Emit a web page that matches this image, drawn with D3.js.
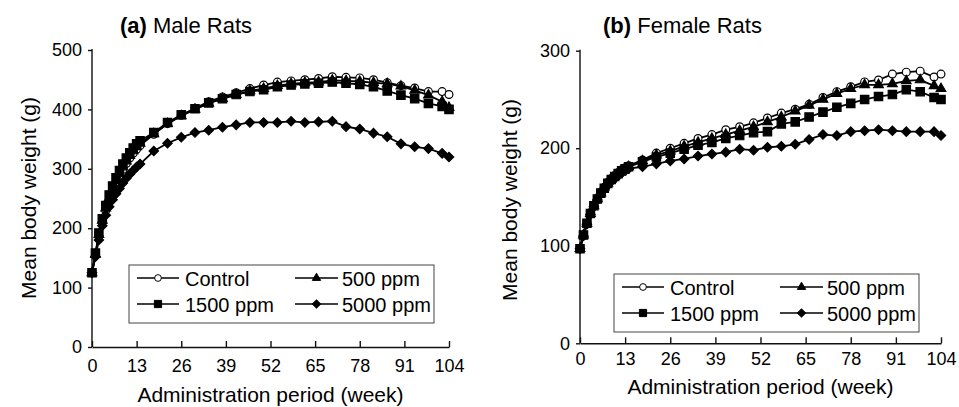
<!DOCTYPE html>
<html>
<head>
<meta charset="utf-8">
<script src="https://cdn.jsdelivr.net/npm/d3@7"></script>
<style>
  body { margin: 0; background: #fff; }
  svg { font-family: "Liberation Sans", Arial, sans-serif; }
</style>
</head>
<body>
<svg width="959" height="407"></svg>
<script>
// administration week of each weighing
const weeks = [0,1,2,3,4,5,6,7,8,9,10,11,12,13,14,18,22,26,30,34,38,42,46,50,54,58,62,66,70,74,78,82,86,90,94,98,102,104];
const xTicks = [0,13,26,39,52,65,78,91,104];
const groups = ["Control", "500 ppm", "1500 ppm", "5000 ppm"];

// male rats, mean body weight (g)
const maleControl = [125,155,186,210,230,246,261,275,288,299,309,318,326,333,339,358,376,390,402,413,421,428,435,441,446,448,450,452,455,454,453,450,445,440,436,430,430,425];
const male500 = [125,156,189,213,234,251,266,280,292,303,313,322,330,337,343,359,376,389,400,410,418,425,431,435,440,443,445,446,449,448,447,445,443,439,432,424,413,403];
const male1500 = [125,158,192,216,238,256,271,285,297,308,318,327,335,342,347,361,378,391,401,411,418,425,430,433,438,441,443,444,446,444,442,438,431,424,418,410,405,400];
const male5000 = [125,152,180,204,222,236,248,258,267,276,284,291,297,303,308,330,343,353,361,365,370,374,378,378,378,380,378,379,380,371,367,360,354,342,337,334,326,320];

// female rats, mean body weight (g)
const femaleControl = [97,111,123,133,141,148,155,160,165,169,172,175,178,180,182,188,195,200,205,210,214,219,222,226,231,236,240,245,252,258,263,268,270,276,278,279,273,276];
const female500 = [97,111,123,133,141,148,154,160,164,168,171,174,177,179,181,187,193,197,202,206,210,214,218,222,227,232,238,244,250,256,261,265,265,266,269,270,264,261];
const female1500 = [97,111,123,133,141,148,154,159,164,168,171,174,177,179,181,186,191,195,199,203,206,210,213,216,217,225,227,232,237,242,246,250,253,255,260,258,252,250];
const female5000 = [97,110,122,132,140,147,153,158,162,166,169,172,175,177,179,181,184,187,189,192,194,196,199,198,201,202,204,209,214,213,217,218,219,218,217,217,217,213];

const svg = d3.select("svg");

// marker shapes per group
const markers = [
    { type: d3.symbolCircle, size: 48, fill: "#fff", rot: 0 },
    { type: d3.symbolTriangle, size: 40, fill: "#000", rot: 0 },
    { type: d3.symbolSquare, size: 70, fill: "#000", rot: 0 },
    { type: d3.symbolSquare, size: 44, fill: "#000", rot: 45 }
];

function drawPanel(cfg) {
    const g = svg.append("g");
    const x = d3.scaleLinear().domain([0, 104]).range([cfg.left, cfg.right]);
    const y = d3.scaleLinear().domain([0, cfg.yMax]).range([cfg.bottom, cfg.top]);

    // axes
    const yAxis = g.append("g")
        .attr("transform", `translate(${cfg.left},0)`)
        .call(d3.axisLeft(y).ticks(cfg.yMax / 100).tickSize(4).tickSizeOuter(0).tickPadding(6));
    const xAxis = g.append("g")
        .attr("transform", `translate(0,${cfg.bottom})`)
        .call(d3.axisBottom(x).tickValues(xTicks).tickSize(-6).tickSizeOuter(0).tickPadding(cfg.xPad));
    [yAxis, xAxis].forEach(a => {
        a.selectAll("path, line").attr("stroke", "#111").attr("stroke-width", 1.4);
        a.selectAll("text").attr("fill", "#000").style("font-size", "18px")
            .style("font-family", "'Liberation Sans', Arial, sans-serif");
    });
    yAxis.select(".domain").attr("d", `M0,${cfg.top - 1}V${cfg.bottom}`);

    // axis titles
    g.append("text")
        .attr("x", (cfg.left + cfg.right) / 2)
        .attr("y", cfg.xTitleY)
        .attr("text-anchor", "middle")
        .style("font-size", "21px")
        .text("Administration period (week)");
    g.append("text")
        .attr("transform", `translate(${cfg.yTitleX},${cfg.yTitleMid}) rotate(-90)`)
        .attr("text-anchor", "middle")
        .style("font-size", "21px")
        .text("Mean body weight (g)");

    // panel title
    const t = g.append("text").attr("x", cfg.titleX).attr("y", 33).style("font-size", "22px");
    t.append("tspan").attr("font-weight", "bold").text(cfg.tag);
    t.append("tspan").text(" " + cfg.title);

    // series
    const line = d3.line().x(d => x(d[0])).y(d => y(d[1]));
    cfg.series.forEach((vals, i) => {
        const pts = weeks.map((w, j) => [w, vals[j]]);
        const m = markers[i];
        const sg = g.append("g");
        sg.append("path")
            .attr("d", line(pts))
            .attr("fill", "none")
            .attr("stroke", "#000")
            .attr("stroke-width", 1.8);
        sg.selectAll("path.pt")
            .data(pts)
            .join("path")
            .attr("class", "pt")
            .attr("transform", d => `translate(${x(d[0])},${y(d[1])}) rotate(${m.rot})`)
            .attr("d", d3.symbol().type(m.type).size(m.size))
            .attr("fill", m.fill)
            .attr("stroke", "#000")
            .attr("stroke-width", 1.2);
    });

    // legend
    const lg = g.append("g").attr("transform", `translate(${cfg.legX},${cfg.legY})`);
    lg.append("rect")
        .attr("width", 305).attr("height", 58)
        .attr("fill", "#fff")
        .attr("stroke", "#444")
        .attr("stroke-width", 1);
    const cols = [[8, 50, 56], [166, 209, 213]];
    const rows = [[13, 21], [39, 47]];
    groups.forEach((name, i) => {
        const c = cols[i % 2], r = rows[Math.floor(i / 2)];
        const m = markers[i];
        lg.append("line")
            .attr("x1", c[0]).attr("x2", c[1])
            .attr("y1", r[0]).attr("y2", r[0])
            .attr("stroke", "#000").attr("stroke-width", 1.4);
        lg.append("path")
            .attr("transform", `translate(${(c[0] + c[1]) / 2},${r[0]}) rotate(${m.rot})`)
            .attr("d", d3.symbol().type(m.type).size(m.size * 0.75))
            .attr("fill", m.fill)
            .attr("stroke", "#000")
            .attr("stroke-width", 1);
        lg.append("text")
            .attr("x", c[2]).attr("y", r[1])
            .style("font-size", "20px")
            .text(name);
    });
}

drawPanel({
    left: 92, right: 449, top: 50, bottom: 347, yMax: 500, xPad: 12,
    xTitleY: 402, yTitleX: 36, yTitleMid: 198,
    titleX: 120, tag: "(a)", title: "Male Rats",
    legX: 129, legY: 265,
    series: [maleControl, male500, male1500, male5000]
});

drawPanel({
    left: 580, right: 941, top: 50.7, bottom: 343.3, yMax: 300, xPad: 9,
    xTitleY: 394, yTitleX: 517, yTitleMid: 200,
    titleX: 603, tag: "(b)", title: "Female Rats",
    legX: 614, legY: 274,
    series: [femaleControl, female500, female1500, female5000]
});
</script>
</body>
</html>
